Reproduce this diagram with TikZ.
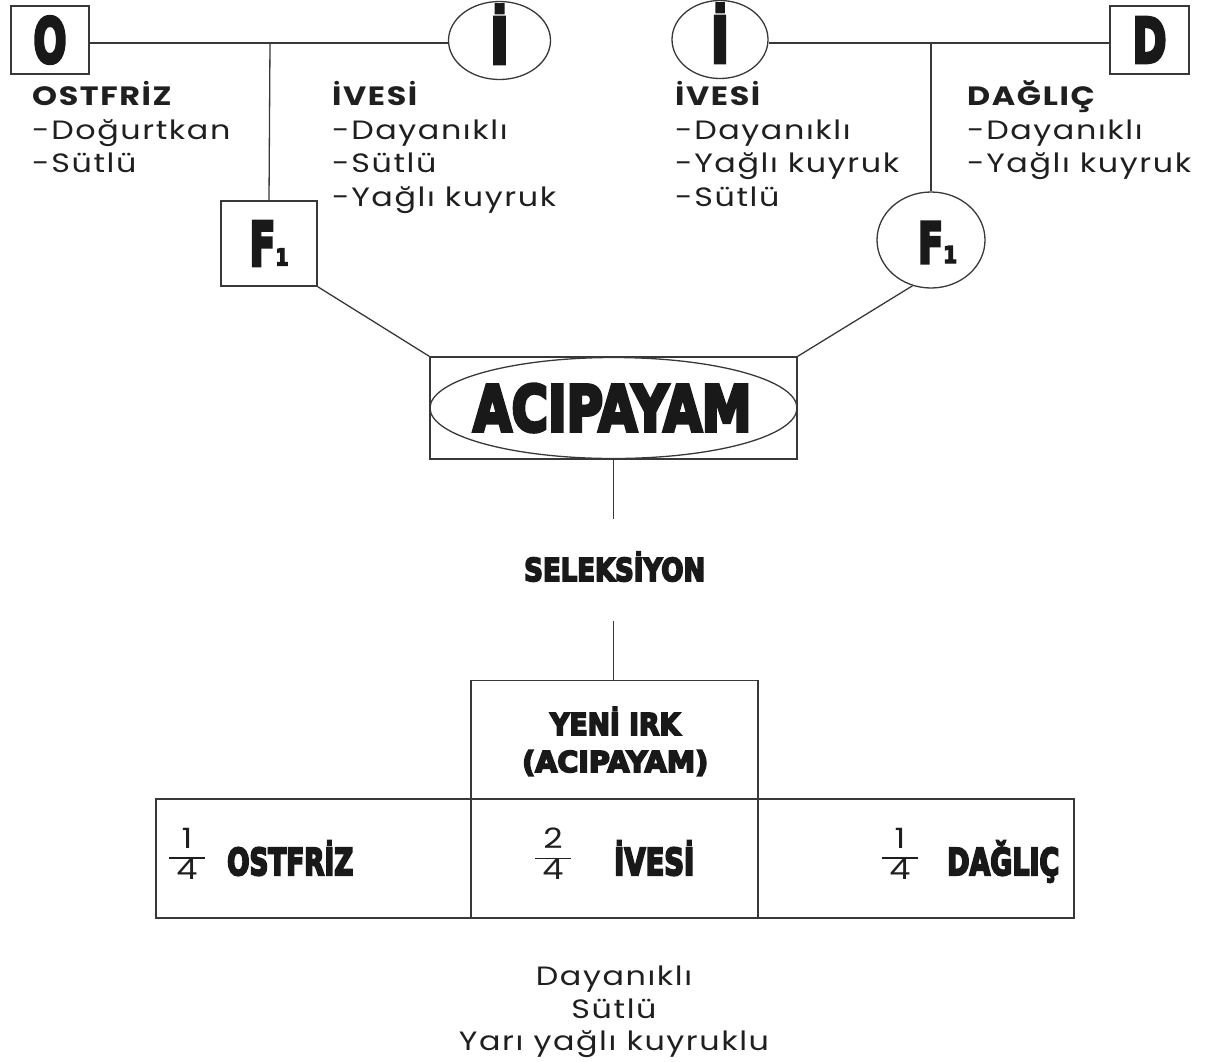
\documentclass[tikz,border=0pt]{standalone}
\usepackage{graphicx}
\usepackage{fontspec}
\usetikzlibrary{shapes.geometric}
\setmainfont{Poppins}[FakeStretch=1.2, LetterSpace=6]
\newfontfamily\heavyfont[FakeBold=6]{DejaVu Sans}
% heavy condensed lettering: width, cap height, text
\newcommand\imp[3]{\resizebox{#1}{#2}{\heavyfont\bfseries\smash{#3}\vphantom{E}}}
% stacked fraction
\newcommand\frc[2]{\vbox{\hsize=36pt\parindent=0pt\centering
  \strut#1\par\nointerlineskip\kern1pt\hrule height1.3pt\kern1pt\strut#2\par}}
\begin{document}
\begin{tikzpicture}[x=1pt,y=-1pt,
  ln/.style={draw=black!78, line width=1.3pt},
  txt/.style={inner sep=0pt, anchor=base west, text=black!88,
    font=\fontsize{26.5}{30}\selectfont},
  ttl/.style={txt, font=\fontsize{26.5}{30}\selectfont\bfseries},
  ctr/.style={txt, anchor=base},
  hv/.style={inner sep=0pt, anchor=base west, text=black!90},
  box/.style={ln, rectangle, inner sep=0pt, text=black!90},
  oval/.style={ln, ellipse, inner sep=0pt, text=black!90},
  cell/.style={ln, rectangle, inner sep=0pt, minimum height=119pt},
  frac/.style={inner sep=0pt, text=black!88, font=\fontsize{28}{27}\selectfont}]
\useasboundingbox (0,0) rectangle (1206,1061);

% parent breeds, first cross
\node[box, minimum width=78pt, minimum height=68pt] (O) at (50,40) {\imp{33pt}{45pt}{O}};
\node[oval, minimum width=102pt, minimum height=78pt] (I1) at (499.5,40.5) {\imp{19pt}{46pt}{İ}};
\node[box, minimum width=96pt, minimum height=85pt] (F1a) at (269,243.5)
  {\imp{26pt}{44pt}{F}\imp{13pt}{17pt}{1}};
\coordinate (j1) at (270,43);
\draw[ln] (O.east |- j1) -- (j1) -- (I1.west |- j1);
\draw[ln] (j1) -- (F1a.north);

% parent breeds, second cross
\node[oval, minimum width=96pt, minimum height=78pt] (I2) at (720,39.5) {\imp{18pt}{46pt}{İ}};
\node[box, minimum width=79pt, minimum height=68pt] (D) at (1149.5,40) {\imp{34pt}{45pt}{D}};
\node[oval, minimum width=108pt, minimum height=96pt] (F1b) at (931,240) {};
\node[hv, anchor=base west] (F1bt) at (918,263) {\imp{25pt}{41pt}{F}\imp{14pt}{17pt}{1}};
\coordinate (j2) at (931,43);
\draw[ln] (I2.east |- j2) -- (j2) -- (D.west |- j2);
\draw[ln] (j2) -- (F1b.north);

% breed notes
\node[ttl] (t1) at (32,105) {OSTFRİZ};
\node[txt] (t2) at (32,139) {-Doğurtkan};
\node[txt] (t3) at (32,172) {-Sütlü};

\node[ttl] (u1) at (332,105) {İVESİ};
\node[txt] (u2) at (332,139) {-Dayanıklı};
\node[txt] (u3) at (332,172) {-Sütlü};
\node[txt] (u4) at (332,206) {-Yağlı kuyruk};

\node[ttl] (v1) at (675,105) {İVESİ};
\node[txt] (v2) at (675,139) {-Dayanıklı};
\node[txt] (v3) at (675,172) {-Yağlı kuyruk};
\node[txt] (v4) at (675,206) {-Sütlü};

\node[ttl] (w1) at (967,105) {DAĞLIÇ};
\node[txt] (w2) at (967,139) {-Dayanıklı};
\node[txt] (w3) at (967,172) {-Yağlı kuyruk};

% back cross
\node[box, minimum width=367pt, minimum height=102pt] (ACI) at (613.5,408) {};
\node[oval, minimum width=367pt, minimum height=101pt] (ACIe) at (613.5,408) {};
\node[hv] (ACIt) at (473,431) {\imp{278pt}{46pt}{ACIPAYAM}};
\draw[ln] (F1a.south east) -- (ACI.north west);
\draw[ln] (F1b.248) -- (ACI.north east);

% selection
\node[hv] (sel) at (524,581) {\imp{181pt}{23pt}{SELEKSİYON}};
\coordinate (s1) at (613.5,519);
\coordinate (s2) at (613.5,621);
\draw[ln] (ACI.south) -- (s1);

% new breed table
\node[cell, minimum width=287pt] (yeni) at (614.5,740) {};
\node[cell, minimum width=315pt] (c1) at (313.5,858.5) {};
\node[cell, minimum width=287pt] (c2) at (614.5,858.5) {};
\node[cell, minimum width=316pt] (c3) at (916,858.5) {};
\draw[ln] (s2) -- (yeni.north -| s2);

\node[hv] (y1) at (550,735) {\imp{130pt}{22pt}{YENİ IRK}};
\node[hv] (y2) at (522,772) {\imp{186pt}{21pt}{(ACIPAYAM)}};

\node[frac] (f1) at (187,858) {\frc{1}{4}};
\node[hv] (b1) at (227,875) {\imp{126pt}{27pt}{OSTFRİZ}};
\node[frac] (f2) at (553,858) {\frc{2}{4}};
\node[hv] (b2) at (614,875) {\imp{80pt}{27pt}{İVESİ}};
\node[frac] (f3) at (900,858) {\frc{1}{4}};
\node[hv] (b3) at (947,875) {\imp{112pt}{27pt}{DAĞLIÇ}};

% resulting traits
\node[ctr] (r1) at (614,985) {Dayanıklı};
\node[ctr] (r2) at (614,1018) {Sütlü};
\node[ctr] (r3) at (614,1050) {Yarı yağlı kuyruklu};
\end{tikzpicture}
\end{document}
